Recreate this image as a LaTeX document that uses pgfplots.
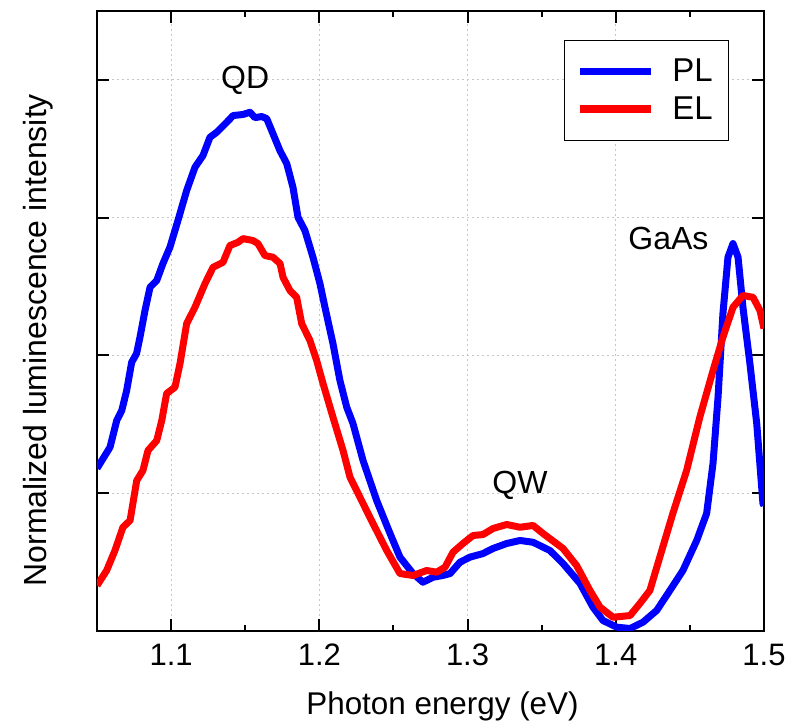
\documentclass[border=0pt]{standalone}
\usepackage{pgfplots}
\pgfplotsset{compat=1.18}
\usepackage{fontspec}
\setmainfont{Liberation Sans}
\begin{document}
\begin{tikzpicture}
\useasboundingbox (-48.5pt,-46pt) rectangle (348.5pt,315.5pt);
\begin{axis}[
  scale only axis,
  width=333.5pt, height=310pt,
  xmin=1.05, xmax=1.5, ymin=0, ymax=4.5,
  xtick={1.1,1.2,1.3,1.4,1.5},
  minor xtick={1.15,1.25,1.35,1.45},
  xticklabels={1.1,1.2,1.3,1.4,1.5},
  ytick={1,2,3,4}, yticklabels={},
  /pgf/number format/assume math mode=true,
  tick label style={font=\fontsize{15.5}{18}\selectfont},
  xticklabel style={yshift=-3pt},
  major tick length=6pt, minor tick length=3pt,
  every tick/.style={black, line width=1pt},
  axis line style={line width=1pt},
  grid=major,
  major grid style={gray!45, line width=0.5pt, dash pattern=on 1pt off 1.5pt},
  xlabel={Photon energy (eV)},
  ylabel={Normalized luminescence intensity},
  label style={font=\fontsize{16}{19}\selectfont},
  xlabel style={at={(axis description cs:0.518,-0.122)}, anchor=center, font=\fontsize{15.7}{19}\selectfont},
  ylabel style={at={(axis description cs:-0.0885,0.469)}, anchor=center},
  legend style={at={(0.948,0.953)}, anchor=north east, draw=black, line width=0.6pt,
    font=\fontsize{16.5}{19.5}\selectfont, inner xsep=6pt, inner ysep=7pt, row sep=2pt},
  legend cell align=left,
  legend image code/.code={\draw[#1, line width=3.8pt] (0pt,0pt) -- (35.5pt,0pt); \path[draw=none] (0pt,0pt) -- (44pt,0pt);},
]
\addplot[blue, line width=3.5pt, line join=round] coordinates {
(1.0500,1.18) (1.0588,1.334) (1.0633,1.528) (1.0667,1.600) (1.0700,1.745)
(1.0734,1.95) (1.0767,2.014) (1.0790,2.132) (1.0824,2.327) (1.0858,2.495)
(1.0903,2.544) (1.0945,2.667) (1.0992,2.785) (1.1046,2.979) (1.1105,3.197)
(1.1161,3.366) (1.1215,3.451) (1.1262,3.583) (1.1308,3.620) (1.1375,3.692)
(1.1418,3.741) (1.1485,3.749) (1.1532,3.765) (1.1566,3.726) (1.1611,3.734)
(1.1645,3.719) (1.1687,3.610) (1.1734,3.487) (1.1780,3.393) (1.1822,3.221)
(1.1856,3.003) (1.1903,2.906) (1.1957,2.713) (1.2004,2.522) (1.2038,2.350)
(1.2092,2.086) (1.2139,1.818) (1.2185,1.624) (1.2227,1.506) (1.2295,1.237)
(1.2387,0.947) (1.2477,0.708) (1.2544,0.536) (1.2632,0.417) (1.2699,0.354)
(1.2767,0.390) (1.2834,0.403) (1.2882,0.417) (1.2949,0.499) (1.3016,0.536)
(1.3104,0.562) (1.3172,0.599) (1.3264,0.635) (1.3354,0.657) (1.3442,0.644)
(1.3556,0.584) (1.3644,0.490) (1.3759,0.345) (1.3846,0.173) (1.3914,0.076)
(1.4006,0.028) (1.4096,0.018) (1.4184,0.064) (1.4276,0.149) (1.4365,0.294)
(1.4453,0.439) (1.4546,0.657) (1.4613,0.853) (1.4656,1.216) (1.4690,1.697)
(1.4723,2.304) (1.4757,2.713) (1.4791,2.812) (1.4825,2.713) (1.4858,2.350)
(1.4905,1.941) (1.4951,1.506) (1.4993,0.925) (1.5000,0.91)
};
\addlegendentry{PL}
\addplot[red, line width=3.5pt, line join=round] coordinates {
(1.0500,0.330) (1.0565,0.439) (1.0621,0.584) (1.0675,0.753) (1.0723,0.802)
(1.0768,1.092) (1.0810,1.165) (1.0844,1.310) (1.0903,1.382) (1.0937,1.528)
(1.0970,1.724) (1.1026,1.769) (1.1060,1.941) (1.1105,2.231) (1.1161,2.350)
(1.1229,2.522) (1.1283,2.640) (1.1350,2.676) (1.1397,2.798) (1.1451,2.821)
(1.1485,2.848) (1.1552,2.834) (1.1586,2.812) (1.1633,2.725) (1.1687,2.713)
(1.1735,2.667) (1.1755,2.567) (1.1802,2.471) (1.1847,2.422) (1.1881,2.231)
(1.1937,2.108) (1.1982,1.963) (1.2025,1.796) (1.2092,1.552) (1.2160,1.310)
(1.2207,1.116) (1.2274,0.971) (1.2362,0.780) (1.2455,0.584) (1.2544,0.417)
(1.2632,0.403) (1.2724,0.439) (1.2792,0.427) (1.2848,0.463) (1.2902,0.572)
(1.2969,0.635) (1.3037,0.693) (1.3104,0.700) (1.3172,0.744) (1.3264,0.773)
(1.3354,0.753) (1.3442,0.766) (1.3509,0.708) (1.3644,0.599) (1.3736,0.475)
(1.3826,0.294) (1.3894,0.173) (1.3981,0.100) (1.4096,0.112) (1.4163,0.200)
(1.4230,0.294) (1.4297,0.536) (1.4385,0.853) (1.4478,1.165) (1.4567,1.552)
(1.4656,1.890) (1.4723,2.132) (1.4791,2.350) (1.4858,2.435) (1.4926,2.422)
(1.4973,2.326) (1.5000,2.195)
};
\addlegendentry{EL}
\node[font=\fontsize{16}{19}\selectfont] at (axis cs:1.15,4.0) {QD};
\node[font=\fontsize{16}{19}\selectfont] at (axis cs:1.3354,1.055) {QW};
\node[font=\fontsize{16}{19}\selectfont] at (axis cs:1.4355,2.85) {GaAs};
\end{axis}
\end{tikzpicture}
\end{document}
